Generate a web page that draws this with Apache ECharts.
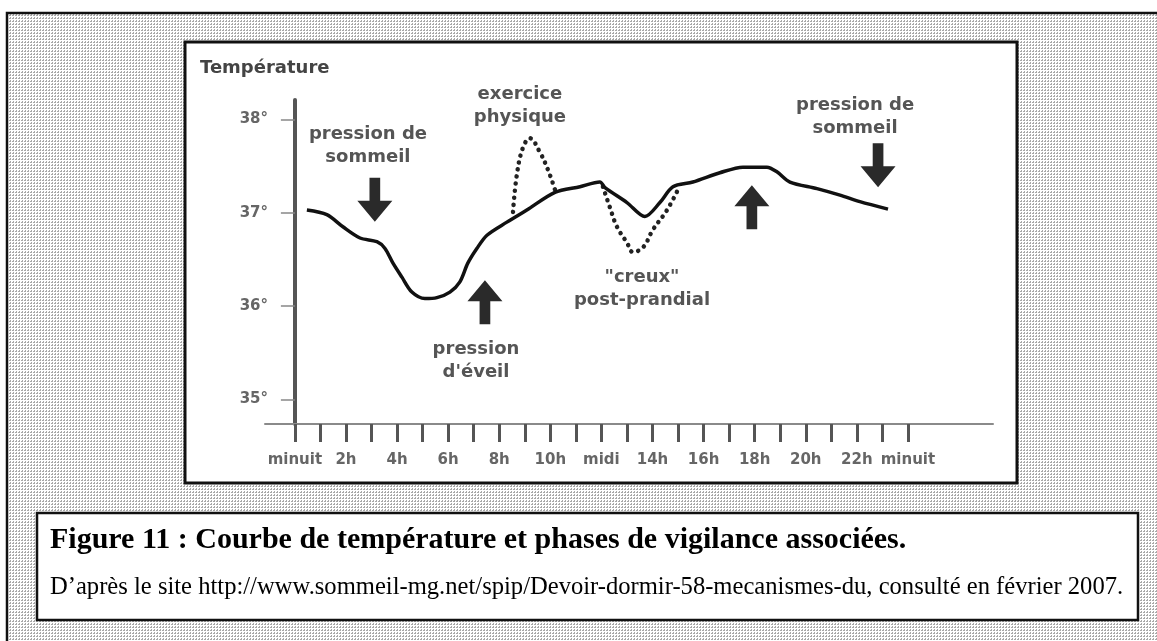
<!DOCTYPE html>
<html>
<head>
<meta charset="utf-8">
<script src="https://cdn.jsdelivr.net/npm/echarts@6/dist/echarts.min.js"></script>
<style>
  html, body { margin: 0; padding: 0; background: #fff; }
  #chart { width: 1157px; height: 641px; }
</style>
</head>
<body>
<div id="chart"></div>
<script>
// courbe principale (heures, température)
var solidHours = [0.47, 1.25, 1.88, 2.55, 3.21, 3.52, 3.84, 4.19, 4.58, 5.09, 5.56, 6.07, 6.46, 6.77, 7.13, 7.52, 8.3, 9.08, 10.18, 11.16, 11.94, 12.14, 13.0, 13.7, 14.29, 14.8, 15.58, 16.64, 17.54, 18.48, 18.87, 19.38, 20.44, 21.34, 22.12, 23.22];
var solidTemps = [37.03, 36.98, 36.85, 36.73, 36.69, 36.62, 36.46, 36.31, 36.15, 36.08, 36.09, 36.15, 36.26, 36.46, 36.62, 36.76, 36.9, 37.03, 37.22, 37.28, 37.33, 37.27, 37.11, 36.96, 37.11, 37.28, 37.33, 37.43, 37.49, 37.49, 37.44, 37.33, 37.26, 37.19, 37.12, 37.04];
// exercice physique (pointillés)
var exerciseHours = [8.54, 8.69, 8.93, 9.2, 9.59, 9.91, 10.18];
var exerciseTemps = [37.01, 37.41, 37.7, 37.8, 37.65, 37.46, 37.25];
// creux post-prandial (pointillés)
var dipHours = [12.06, 12.33, 12.61, 13.0, 13.23, 13.63, 14.02, 14.57, 15.0];
var dipTemps = [37.28, 37.06, 36.85, 36.68, 36.58, 36.63, 36.82, 37.03, 37.25];

var yTicks = [35, 36, 37, 38];
var hourTicks = [0, 1, 2, 3, 4, 5, 6, 7, 8, 9, 10, 11, 12, 13, 14, 15, 16, 17, 18, 19, 20, 21, 22, 23, 24];
var labelHours = [0, 2, 4, 6, 8, 10, 12, 14, 16, 18, 20, 22, 24];
var hourLabels = ["minuit", "2h", "4h", "6h", "8h", "10h", "midi", "14h", "16h", "18h", "20h", "22h", "minuit"];

// flèches et textes
var arrowHours = [3.13, 7.44, 17.89, 22.83];
var arrowTemps = [37.14, 36.04, 37.06, 37.51];
var arrowDown = [true, false, false, true];
var noteTexts = ["pression de\nsommeil", "exercice\nphysique", "pression de\nsommeil", "\"creux\"\npost-prandial", "pression\nd'éveil"];
var noteHours = [2.86, 8.81, 21.93, 13.59, 7.09];
var noteTemps = [37.72, 38.15, 38.03, 36.18, 35.41];

function pairs(xs, ys) {
  var out = [];
  for (var i = 0; i < xs.length; i++) out.push([xs[i], ys[i]]);
  return out;
}

// trame grise du fond
var tile = document.createElement("canvas");
tile.width = 3;
tile.height = 3;
var tctx = tile.getContext("2d");
tctx.fillStyle = "#fff";
tctx.fillRect(0, 0, 3, 3);
tctx.fillStyle = "#a8a8a8";
tctx.fillRect(0, 0, 2, 1);
tctx.fillRect(1, 2, 1, 1);

var arrowPath = "path://M12.5,0 L23.5,0 L23.5,24 L36,24 L18,46 L0,24 L12.5,24 Z";
var arrowData = [];
for (var i = 0; i < arrowHours.length; i++) {
  arrowData.push({
    coord: [arrowHours[i], arrowTemps[i]],
    symbolRotate: arrowDown[i] ? 0 : 180
  });
}
var noteData = [];
for (var j = 0; j < noteTexts.length; j++) {
  noteData.push({
    coord: [noteHours[j], noteTemps[j]],
    value: noteTexts[j]
  });
}

var sans = "DejaVu Sans";
var chart = echarts.init(document.getElementById("chart"));
var option = {
  animation: false,
  title: {
    text: "Température",
    left: 195,
    top: 54,
    textStyle: { fontFamily: sans, fontSize: 18, fontWeight: "bold", color: "#444" }
  },
  graphic: [
    {
      type: "rect", z: -10,
      shape: { x: 7, y: 13, width: 1170, height: 660 },
      style: { fill: { image: tile, repeat: "repeat" }, stroke: "#111", lineWidth: 2.5 }
    },
    {
      type: "rect", z: -9,
      shape: { x: 185, y: 42, width: 832, height: 441 },
      style: { fill: "#fff", stroke: "#111", lineWidth: 3 }
    },
    {
      type: "rect", z: -9,
      shape: { x: 37, y: 513, width: 1101, height: 107 },
      style: { fill: "#fff", stroke: "#111", lineWidth: 2.5 }
    },
    {
      type: "text", z: 5,
      x: 50, y: 540,
      style: {
        text: "Figure 11 : Courbe de température et phases de vigilance associées.",
        font: "bold 30px 'Liberation Serif'",
        fill: "#000",
        verticalAlign: "middle"
      }
    },
    {
      type: "text", z: 5,
      x: 50, y: 588,
      style: {
        text: "D’après le site http://www.sommeil-mg.net/spip/Devoir-dormir-58-mecanismes-du, consulté en février 2007.",
        font: "24.6px 'Liberation Serif'",
        fill: "#000",
        verticalAlign: "middle"
      }
    }
  ],
  grid: { left: 265, right: 164, top: 100, bottom: 217 },
  xAxis: {
    type: "value",
    min: -1.17,
    max: 27.33,
    splitLine: { show: false },
    axisLine: { lineStyle: { color: "#8a8a8a", width: 2 } },
    axisTick: { customValues: hourTicks, length: 18, lineStyle: { color: "#555", width: 3 } },
    axisLabel: {
      customValues: labelHours,
      margin: 29,
      color: "#666",
      fontFamily: sans,
      fontSize: 15,
      fontWeight: "bold",
      formatter: function (v) {
        return hourLabels[labelHours.indexOf(v)];
      }
    }
  },
  yAxis: {
    type: "value",
    min: 34.735,
    max: 38.21,
    splitLine: { show: false },
    axisLine: { show: true, onZero: true, lineStyle: { color: "#555", width: 4 } },
    axisTick: { show: true, customValues: yTicks, length: 14, lineStyle: { color: "#888", width: 1.5 } },
    axisLabel: {
      customValues: yTicks,
      margin: -3,
      color: "#666",
      fontFamily: sans,
      fontSize: 15,
      fontWeight: "bold",
      formatter: function (v) { return v + "°"; }
    }
  },
  series: [
    {
      name: "temperature",
      type: "line",
      data: pairs(solidHours, solidTemps),
      smooth: 0.3,
      symbol: "none",
      lineStyle: { color: "#111", width: 3.5 },
      markPoint: {
        symbol: arrowPath,
        symbolSize: [35, 44],
        itemStyle: { color: "#2a2a2a" },
        label: { show: false },
        data: arrowData
      },
      z: 3
    },
    {
      name: "exercice",
      type: "line",
      data: pairs(exerciseHours, exerciseTemps),
      smooth: 0.4,
      symbol: "none",
      lineStyle: { color: "#222", width: 4.5, type: [0.1, 7], cap: "round" },
      z: 2
    },
    {
      name: "creux",
      type: "line",
      data: pairs(dipHours, dipTemps),
      smooth: 0.4,
      symbol: "none",
      lineStyle: { color: "#222", width: 4.5, type: [0.1, 7], cap: "round" },
      markPoint: {
        symbol: "circle",
        symbolSize: 1,
        itemStyle: { color: "rgba(0,0,0,0)" },
        label: {
          show: true,
          position: "inside",
          formatter: "{c}",
          fontFamily: sans,
          fontSize: 18,
          fontWeight: "bold",
          lineHeight: 23,
          color: "#555"
        },
        data: noteData
      },
      z: 2
    }
  ]
};
chart.setOption(option);
window.addEventListener("resize", function () {
  chart.resize();
});
</script>
</body>
</html>
